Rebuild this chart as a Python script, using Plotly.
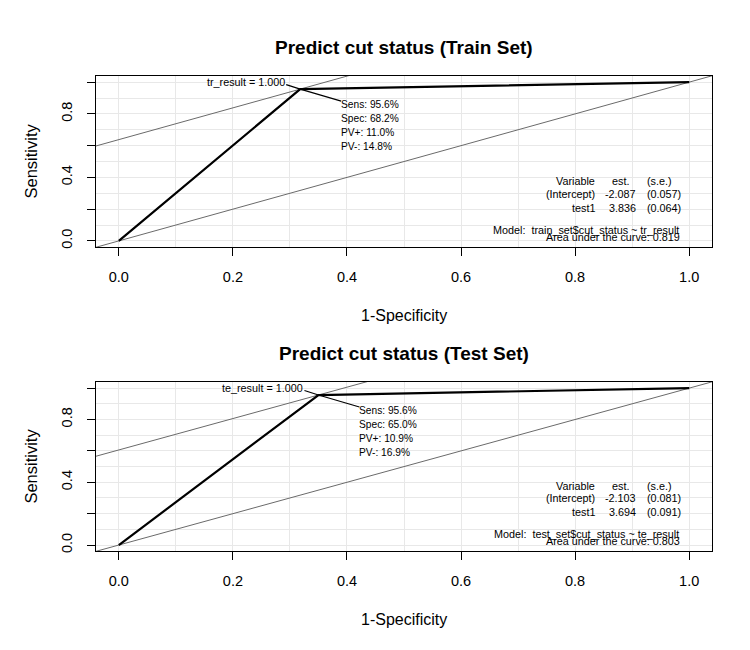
import plotly.graph_objects as go

W, H = 750, 650
OFF = 8  # the page body adds an 8px margin around the plot div

# values
set_names = ["Train Set", "Test Set"]
test_vars = ["tr_result", "te_result"]
cutoffs = [1.000, 1.000]
sens = [95.6, 95.6]
spec = [68.2, 65.0]
ppv = [11.0, 10.9]
npv = [14.8, 16.9]
icpt_est = [-2.087, -2.103]
icpt_se = [0.057, 0.081]
test1_est = [3.836, 3.694]
test1_se = [0.064, 0.091]
auc = [0.819, 0.803]
model_lhs = ["train_set$cut_status", "test_set$cut_status"]

x_ticks = [0, 0.2, 0.4, 0.6, 0.8, 1.0]
x_ticktext = ["0.0", "0.2", "0.4", "0.6", "0.8", "1.0"]
y_ticks = [0, 0.2, 0.4, 0.6, 0.8, 1.0]
y_ticktext = ["0.0", "", "0.4", "", "0.8", ""]

# plot boxes in pixels of the screenshot: left, top, right, bottom
boxes = [(96, 76, 712, 248), (96, 383, 712, 553)]
rng = [-0.04, 1.04]

FONT = "Liberation Sans, Arial, Helvetica, sans-serif"
GRID = "#e8e8e8"
ABLINE = "#6a6a6a"


def px(x):
    return (x - OFF) / W


def py(y):
    return 1 - (y - OFF) / H


def note(x, y, text, xa="center", size=10.8, **kw):
    return dict(x=px(x), y=py(y), xref="paper", yref="paper", text=text,
                xanchor=xa, yanchor="middle", showarrow=False,
                font=dict(size=size), **kw)


fig = go.Figure()
annotations = []

for i in range(2):
    l, t, r, b = boxes[i]
    sfx = "" if i == 0 else str(i + 1)
    xa, ya = "x" + sfx, "y" + sfx
    # data units per pixel in this panel
    ux = (rng[1] - rng[0]) / (r - l)
    uy = (rng[1] - rng[0]) / (b - t)

    se = sens[i] / 100
    fpr = 1 - spec[i] / 100

    # diagonal and tangent through the optimal cut-point
    fig.add_trace(go.Scatter(x=rng, y=rng, mode="lines", xaxis=xa, yaxis=ya,
                             line=dict(color=ABLINE, width=1), hoverinfo="skip"))
    fig.add_trace(go.Scatter(x=rng, y=[v + se - fpr for v in rng], mode="lines",
                             xaxis=xa, yaxis=ya,
                             line=dict(color=ABLINE, width=1), hoverinfo="skip"))
    # ROC curve
    fig.add_trace(go.Scatter(x=[0, fpr, 1], y=[0, se, 1], mode="lines",
                             xaxis=xa, yaxis=ya,
                             line=dict(color="black", width=2.2)))
    # leader lines from the cut-point to the labels
    fig.add_trace(go.Scatter(x=[fpr - 14 * ux, fpr, fpr + 41 * ux],
                             y=[se + 4.5 * uy, se, se - 12 * uy], mode="lines",
                             xaxis=xa, yaxis=ya,
                             line=dict(color="black", width=1.2), hoverinfo="skip"))

    fig.update_layout(**{
        "xaxis" + sfx: dict(
            domain=[px(l), px(r)], range=rng, anchor=ya,
            tickmode="array", tickvals=x_ticks, ticktext=x_ticktext,
            ticks="outside", ticklen=8, tickwidth=1, tickcolor="black",
            ticklabelstandoff=8,
            showline=True, mirror=True, linecolor="black", linewidth=1.3,
            showgrid=True, gridcolor=GRID, gridwidth=1, zeroline=False,
            minor=dict(tickmode="linear", tick0=0, dtick=0.1, showgrid=True,
                       gridcolor=GRID, gridwidth=1, ticks=""),
            tickfont=dict(size=14.5, color="black"),
        ),
        "yaxis" + sfx: dict(
            domain=[py(b), py(t)], range=rng, anchor=xa,
            tickmode="array", tickvals=y_ticks, ticktext=y_ticktext,
            tickangle=-90,
            ticks="outside", ticklen=8, tickwidth=1, tickcolor="black",
            ticklabelstandoff=9,
            showline=True, mirror=True, linecolor="black", linewidth=1.3,
            showgrid=True, gridcolor=GRID, gridwidth=1, zeroline=False,
            minor=dict(tickmode="linear", tick0=0, dtick=0.1, showgrid=True,
                       gridcolor=GRID, gridwidth=1, ticks=""),
            tickfont=dict(size=14.5, color="black"),
        ),
    })

    mid = (l + r) / 2
    # title and axis titles
    annotations.append(note(mid, t - 28, "<b>Predict cut status (%s)</b>" % set_names[i],
                            size=19))
    annotations.append(note(mid, b + 68, "1-Specificity", size=16))
    annotations.append(note(31, (t + b) / 2, "Sensitivity", size=16.5, textangle=-90))

    # cut-point labels
    annotations.append(dict(x=fpr, y=se, xref=xa, yref=ya, xshift=-13, yshift=7,
                            xanchor="right", yanchor="middle", showarrow=False,
                            text="%s = %.3f" % (test_vars[i], cutoffs[i]),
                            font=dict(size=10.8)))
    block = ["Sens: %.1f%%" % sens[i], "Spec: %.1f%%" % spec[i],
             "PV+: %.1f%%" % ppv[i], "PV-: %.1f%%" % npv[i]]
    for k, s in enumerate(block):
        annotations.append(dict(x=fpr, y=se, xref=xa, yref=ya, xshift=39,
                                yshift=-(15 + 14.2 * k), xanchor="left",
                                yanchor="middle", showarrow=False, text=s,
                                font=dict(size=10.2)))

    # logistic model table
    rows = [("Variable", "est.", "(s.e.)", 66),
            ("(Intercept)", "%.3f" % icpt_est[i], "(%.3f)" % icpt_se[i], 53),
            ("test1", "%.3f" % test1_est[i], "(%.3f)" % test1_se[i], 39)]
    for c1, c2, c3, up in rows:
        annotations.append(note(597, b - up, c1, xa="right"))
        annotations.append(note(631 if c2 == "est." else 638, b - up, c2, xa="right"))
        annotations.append(note(645, b - up, c3, xa="left"))
    annotations.append(note(681, b - 17, "Model:  %s ~ %s" % (model_lhs[i], test_vars[i]),
                            xa="right"))
    annotations.append(note(682, b - 10, "Area under the curve: %.3f" % auc[i], xa="right"))

fig.update_layout(
    width=W, height=H,
    margin=dict(l=0, r=0, t=0, b=0),
    paper_bgcolor="white", plot_bgcolor="white",
    showlegend=False,
    font=dict(family=FONT, color="black"),
    annotations=annotations,
)

fig.write_html("out.html")
